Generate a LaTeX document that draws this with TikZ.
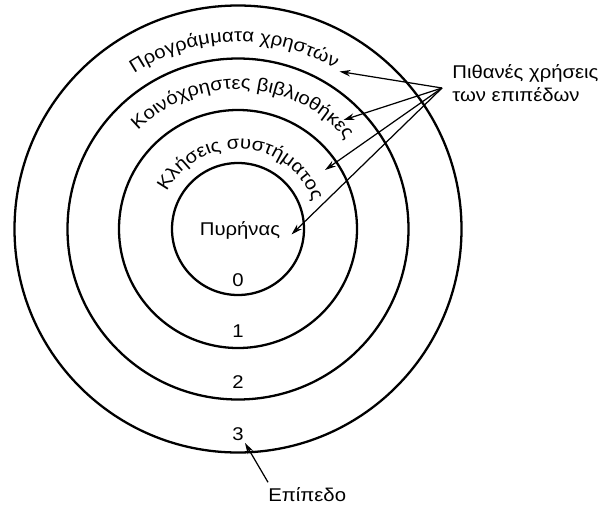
\documentclass[tikz,border=0pt]{standalone}
\usepackage{fontspec}
\setmainfont{Liberation Sans}[FakeStretch=1.1]
\usepackage{tikz}
\usetikzlibrary{decorations.text,arrows.meta,positioning}

\newcommand{\ringfont}{\fontsize{10.5}{13}\selectfont}

\begin{document}
\begin{tikzpicture}[
        ring/.style = {draw, circle, inner sep=0pt, line width=1.3pt},
        pointer/.style = {-{Stealth[length=0.22cm,width=0.13cm]}, line width=0.7pt},
        arctext/.style = {decorate, decoration={text along path, text align=center, text={|\ringfont|#1}}},
        font=\ringfont]
    \useasboundingbox (-4.76,-5.52) rectangle (7.26,4.58);

    % the four levels, from the kernel outwards
    \node[ring, minimum size=2.64cm] (core) at (0,0) {};
    \node[ring, minimum size=4.76cm] (sys) at (0,0) {};
    \node[ring, minimum size=6.82cm] (lib) at (0,0) {};
    \node[ring, minimum size=8.94cm] (user) at (0,0) {};

    % names written along the rings
    \path[arctext={Κλήσεις συστήματος}] (171.5:1.6) arc[start angle=171.5, end angle=1.5, radius=1.6];
    \path[arctext={Κοινόχρηστες βιβλιοθήκες}] (157.5:2.8) arc[start angle=157.5, end angle=17.5, radius=2.8];
    \path[arctext={Προγράμματα χρηστών}] (151.3:3.74) arc[start angle=151.3, end angle=31.3, radius=3.74];
    \node[anchor=base] (kernel) at (0.04,-0.12) {Πυρήνας};

    % level numbers
    \node (n0) at (0,-1.02) {0};
    \node (n1) at (0,-2.04) {1};
    \node (n2) at (0,-3.06) {2};
    \node (n3) at (0,-4.10) {3};

    % labels and their arrows
    \coordinate (hub) at (4.08,2.82);
    \node[right=0.2cm of hub, inner sep=0pt, align=left, yshift=0.1cm] (uses) {Πιθανές χρήσεις\\των επιπέδων};
    \coordinate (t1) at (2.03,3.15);
    \coordinate (t2) at (2.11,2.18);
    \coordinate (t3) at (1.74,1.18);
    \coordinate (t4) at (1.07,-0.11);
    \foreach \t in {t1,t2,t3,t4}
        \draw[pointer] (hub) -- (\t);

    \node[anchor=base west, inner xsep=0pt, inner ysep=0.1cm] (level) at (0.6,-5.45) {Επίπεδο};
    \coordinate (t5) at (0.14,-4.28);
    \draw[pointer] (level.north west) -- (t5);
\end{tikzpicture}
\end{document}
